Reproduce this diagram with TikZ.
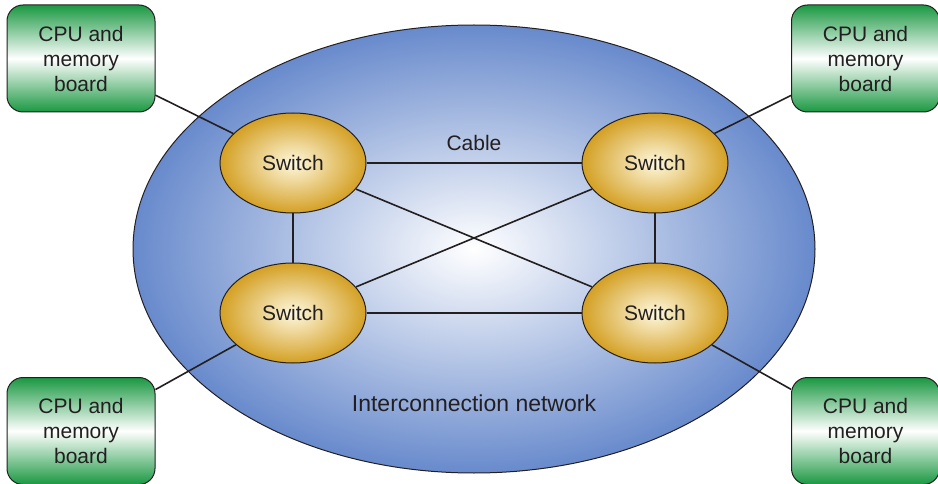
\documentclass[tikz,border=0pt]{standalone}
\usepackage{fontspec}
\setmainfont{Liberation Sans}
\usetikzlibrary{shapes.geometric}
\definecolor{netblue}{RGB}{104,138,204}
\definecolor{swgold}{RGB}{212,160,36}
\definecolor{swpale}{RGB}{254,248,222}
\definecolor{bgreen}{RGB}{26,152,66}
\definecolor{txt}{RGB}{35,31,32}
\begin{document}
\begin{tikzpicture}[x=1pt,y=-1pt,
  wire/.style={draw=txt,line width=1.6pt},
  netell/.style={ellipse,draw=txt,line width=1pt,minimum width=682pt,minimum height=448pt,inner sep=0pt,
     inner color=white,outer color=netblue},
  switchell/.style={ellipse,draw=txt,line width=1pt,minimum width=146pt,minimum height=100pt,inner sep=0pt,
     inner color=swpale,outer color=swgold,font=\fontsize{21}{24}\selectfont,text=txt},
  board/.style={rectangle,rounded corners=16pt,draw=txt,line width=1pt,minimum width=148pt,minimum height=107pt,
     inner sep=0pt,top color=bgreen,bottom color=bgreen,middle color=white,align=center,
     font=\fontsize{21}{25}\selectfont,text=txt},
  lbl/.style={font=\fontsize{21}{24}\selectfont,text=txt}]
\useasboundingbox (0,0) rectangle (938,484);
\node[netell] (net) at (474,249) {};
\node[switchell] (s1) at (293,163) {Switch};
\node[switchell] (s2) at (655,163) {Switch};
\node[switchell] (s3) at (293,313) {Switch};
\node[switchell] (s4) at (655,313) {Switch};
\node[board] (b1) at (81,58.5) {CPU and\\memory\\board};
\node[board] (b2) at (865.5,58.5) {CPU and\\memory\\board};
\node[board] (b3) at (81,431) {CPU and\\memory\\board};
\node[board] (b4) at (865.5,431) {CPU and\\memory\\board};
\node[lbl] (cable) at (474,143) {Cable};
\node[lbl,font=\fontsize{23}{26}\selectfont] (inet) at (474,403) {Interconnection network};
\draw[wire] (s1) -- (s2);
\draw[wire] (s3) -- (s4);
\draw[wire] (s1) -- (s3);
\draw[wire] (s2) -- (s4);
\draw[wire] (s1) -- (s4);
\draw[wire] (s2) -- (s3);
\draw[wire] (b1) -- (s1);
\draw[wire] (b2) -- (s2);
\draw[wire] (b3) -- (s3);
\draw[wire] (b4) -- (s4);
\end{tikzpicture}
\end{document}
